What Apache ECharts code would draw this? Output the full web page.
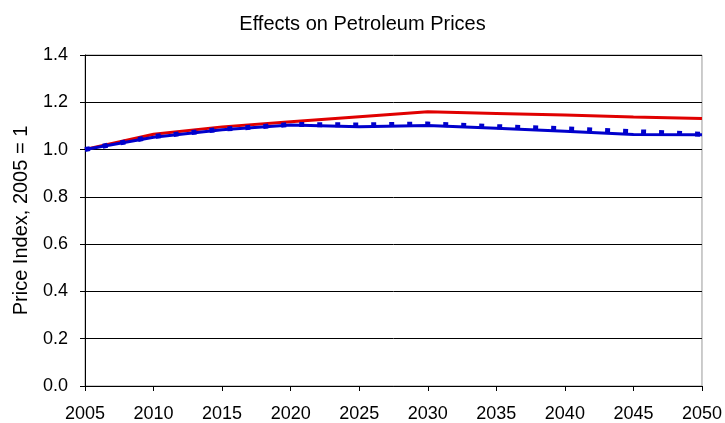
<!DOCTYPE html>
<html>
<head>
<meta charset="utf-8">
<script src="https://cdn.jsdelivr.net/npm/echarts@6/dist/echarts.min.js"></script>
<style>
  html, body { margin: 0; padding: 0; background: #fff; }
  #main { width: 725px; height: 423px; }
</style>
</head>
<body>
<div id="main"></div>
<script>
const years = [2005, 2010, 2015, 2020, 2025, 2030, 2035, 2040, 2045, 2050];
const redValues = [1.0, 1.065, 1.096, 1.118, 1.139, 1.16, 1.153, 1.146, 1.138, 1.131];
const blueValues = [1.0, 1.052, 1.084, 1.104, 1.096, 1.102, 1.09, 1.077, 1.064, 1.063];
const blueDottedValues = [1.0, 1.055, 1.086, 1.106, 1.104, 1.108, 1.097, 1.088, 1.076, 1.065];

const chartContainer = echarts.init(document.getElementById("main"));

const pairs = (vals) => years.map((y, i) => [y, vals[i]]);

const option = {
  animation: false,
  backgroundColor: "#fff",
  textStyle: { fontFamily: "Liberation Sans, Arial, sans-serif" },
  title: {
    text: "Effects on Petroleum Prices",
    left: "center",
    top: 9,
    textStyle: { fontSize: 20, fontWeight: "normal", color: "#000" },
  },
  grid: {
    left: 85,
    right: 19,
    top: 55,
    bottom: 37,
    show: true,
    borderColor: "#999",
    borderWidth: 1,
  },
  xAxis: {
    type: "value",
    min: 2005,
    max: 2050,
    interval: 5,
    axisLine: { lineStyle: { color: "#000", width: 1 } },
    axisTick: { show: true, length: 5, lineStyle: { color: "#000" } },
    axisLabel: { color: "#000", fontSize: 18, margin: 19, formatter: (v) => String(v) },
    splitLine: { show: false },
  },
  yAxis: {
    type: "value",
    min: 0,
    max: 1.4,
    interval: 0.2,
    name: "Price Index, 2005 = 1",
    nameLocation: "middle",
    nameGap: 54,
    nameTextStyle: { color: "#000", fontSize: 20 },
    axisLine: { show: true, lineStyle: { color: "#000", width: 1 } },
    axisTick: { show: true, length: 5, lineStyle: { color: "#000" } },
    axisLabel: {
      color: "#000",
      fontSize: 18,
      margin: 17,
      formatter: (v) => v.toFixed(1),
    },
    splitLine: { show: true, lineStyle: { color: "#000", width: 1 } },
  },
  series: [
    {
      name: "Red",
      type: "line",
      symbol: "none",
      data: pairs(redValues),
      lineStyle: { color: "#e00000", width: 3 },
      z: 3,
    },
    {
      name: "Blue dotted",
      type: "line",
      symbol: "none",
      data: pairs(blueDottedValues),
      lineStyle: { color: "#0000cc", width: 5, type: [5, 13], cap: "butt" },
      z: 4,
    },
    {
      name: "Blue",
      type: "line",
      symbol: "none",
      data: pairs(blueValues),
      lineStyle: { color: "#0000cc", width: 3 },
      z: 5,
    },
  ],
};

chartContainer.setOption(option);
</script>
</body>
</html>
